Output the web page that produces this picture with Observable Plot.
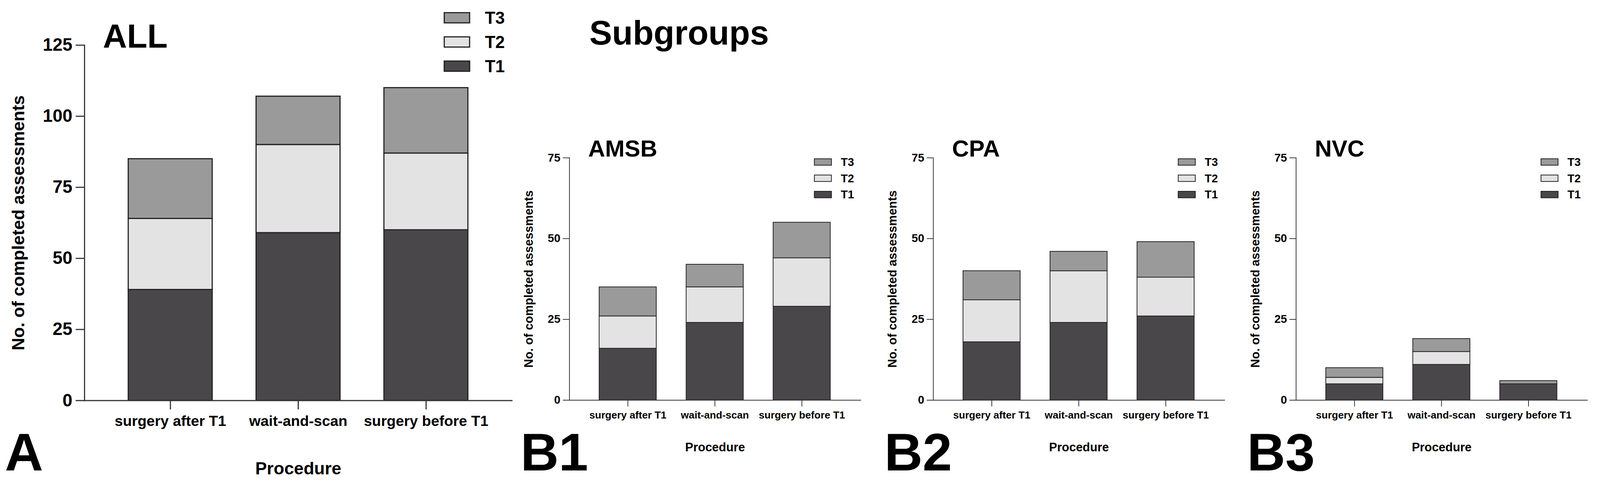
<!DOCTYPE html>
<html>
<head>
<meta charset="utf-8">
<script src="https://cdn.jsdelivr.net/npm/d3@7"></script>
<script src="https://cdn.jsdelivr.net/npm/@observablehq/plot@0.6"></script>
<style>
  html, body { margin: 0; padding: 0; background: #fff; overflow: hidden; }
  #wrap { position: absolute; left: 0; top: 0; width: 4230px; height: 1273px; background: #fff; overflow: hidden;
          transform-origin: 0 0;
          font-family: "Liberation Sans", Arial, sans-serif; font-weight: bold; color: #000; }
  .abs { position: absolute; white-space: nowrap; line-height: 1; }
  .plot { position: absolute; top: 0; max-width: none !important; }
  .lg { position: absolute; }
  .lg .sw { position: absolute; box-sizing: border-box; border-style: solid; border-color: #222; }
  .lg .tx { position: absolute; white-space: nowrap; line-height: 1; }
</style>
</head>
<body>
<div id="wrap"></div>
<script>
// ---------- data ----------
const procedures = ["surgery after T1", "wait-and-scan", "surgery before T1"];
const seriesNames = ["T1", "T2", "T3"];
const seriesColors = ["#4a474a", "#e3e3e3", "#9a9a9a"];

const allT1 = [39, 59, 60];
const allT2 = [25, 31, 27];
const allT3 = [21, 17, 23];

const amsbT1 = [16, 24, 29];
const amsbT2 = [10, 11, 15];
const amsbT3 = [9, 7, 11];

const cpaT1 = [18, 24, 26];
const cpaT2 = [13, 16, 12];
const cpaT3 = [9, 6, 11];

const nvcT1 = [5, 11, 5];
const nvcT2 = [2, 4, 0];
const nvcT3 = [3, 4, 1];

const allTicks = [0, 25, 50, 75, 100, 125];
const subTicks = [0, 25, 50, 75];

function toRows(t1, t2, t3) {
  const rows = [];
  const s = [t1, t2, t3];
  s.forEach((vals, si) => vals.forEach((v, i) => rows.push({procedure: procedures[i], series: seriesNames[si], value: v})));
  return rows;
}

const wrap = document.getElementById("wrap");
// fit the 4230x1273 canvas to the actual viewport
(function fit() {
  const vw = document.documentElement.clientWidth || window.innerWidth;
  const vh = document.documentElement.clientHeight || window.innerHeight;
  const sc = Math.min(vw / 4230, vh / 1273);
  if (Math.abs(sc - 1) > 0.002) wrap.style.transform = "scale(" + sc + ")";
})();

const FONT = "Liberation Sans, Arial, sans-serif";

function makePlot(cfg) {
  const p = Plot.plot({
    width: cfg.width,
    height: 1273,
    marginLeft: cfg.marginLeft,
    marginRight: cfg.width - cfg.marginLeft - cfg.plotW,
    marginTop: cfg.top,
    marginBottom: 1273 - cfg.bottom,
    style: {fontFamily: FONT, fontWeight: "bold", color: "#000", background: "transparent", overflow: "visible"},
    x: {domain: procedures, paddingInner: 0.343, paddingOuter: 0.34},
    y: {domain: [0, cfg.yMax]},
    color: {domain: seriesNames, range: seriesColors},
    marks: [
      Plot.barY(cfg.rows, {x: "procedure", y: "value", fill: "series", stroke: "#222", strokeWidth: cfg.sw}),
      Plot.axisY({ticks: cfg.ticks, tickSize: cfg.tickY, tickPadding: cfg.padY, fontSize: cfg.fsY, strokeWidth: cfg.sw, stroke: "#333",
                  label: "No. of completed assessments", labelAnchor: "center", labelOffset: cfg.labOffY, labelArrow: "none"}),
      Plot.axisX({tickSize: cfg.tickX, tickPadding: cfg.padX, fontSize: cfg.fsX, strokeWidth: cfg.sw, stroke: "#333",
                  label: "Procedure", labelAnchor: "center", labelOffset: cfg.labOffX, labelArrow: "none"}),
      Plot.frame({anchor: "left", stroke: "#333", strokeWidth: cfg.sw}),
      Plot.frame({anchor: "bottom", stroke: "#333", strokeWidth: cfg.sw})
    ]
  });
  p.querySelectorAll("g[aria-label='y-axis label'] text, g[aria-label='x-axis label'] text").forEach(t => {
    t.setAttribute("font-size", cfg.fsLab);
    t.textContent = t.textContent.replace(/[↑↓←→]/g, "").trim();
  });
  p.classList.add("plot");
  p.style.left = cfg.left + "px";
  wrap.appendChild(p);
}

function addText(txt, x, top, size) {
  const d = document.createElement("div");
  d.className = "abs";
  d.textContent = txt;
  d.style.left = x + "px";
  d.style.top = top + "px";
  d.style.fontSize = size + "px";
  wrap.appendChild(d);
}

function addLegend(x, y, swW, swH, gap, textDx, fs, bw) {
  const g = document.createElement("div");
  g.className = "lg";
  g.style.left = x + "px"; g.style.top = y + "px";
  [2, 1, 0].forEach((si, k) => {
    const sw = document.createElement("div");
    sw.className = "sw";
    sw.style.left = "0px"; sw.style.top = (k * gap) + "px";
    sw.style.width = swW + "px"; sw.style.height = swH + "px";
    sw.style.borderWidth = bw + "px";
    sw.style.background = seriesColors[si];
    g.appendChild(sw);
    const t = document.createElement("div");
    t.className = "tx";
    t.textContent = seriesNames[si];
    t.style.left = textDx + "px";
    t.style.fontSize = fs + "px";
    t.style.top = (k * gap + swH / 2 - fs * 0.5) + "px";
    g.appendChild(t);
  });
  wrap.appendChild(g);
}

// Panel A
makePlot({left: 0, width: 1400, marginLeft: 223, plotW: 1130, top: 119, bottom: 1059, yMax: 125,
  rows: toRows(allT1, allT2, allT3), ticks: allTicks, sw: 3, tickY: 23, padY: 9, fsY: 47,
  tickX: 24, padX: 16, fsX: 39, fsLab: 46, labOffY: 192, labOffX: 195});

// Panels B
const bPanels = [
  {axis: 1505, rows: toRows(amsbT1, amsbT2, amsbT3), title: "AMSB", letter: "B1"},
  {axis: 2467, rows: toRows(cpaT1, cpaT2, cpaT3), title: "CPA", letter: "B2"},
  {axis: 3426, rows: toRows(nvcT1, nvcT2, nvcT3), title: "NVC", letter: "B3"}
];
bPanels.forEach(b => {
  makePlot({left: b.axis - 160, width: 960, marginLeft: 160, plotW: 770, top: 417, bottom: 1058, yMax: 75,
    rows: b.rows, ticks: subTicks, sw: 2, tickY: 17, padY: 7, fsY: 30,
    tickX: 17, padX: 12, fsX: 27, fsLab: 32, labOffY: 120, labOffX: 135});
  addText(b.title, b.axis + 50, 362, 62);
  addText(b.letter, b.axis - 129, 1126, 140);
  addLegend(b.axis + 770 - 123, 419, 47, 19, 43, 71, 30, 2);
});

// Panel A texts
addText("ALL", 272, 52, 88);
addText("Subgroups", 1558, 42, 90);
addText("A", 13, 1126, 140);
addLegend(1173, 32, 70, 30, 64, 109, 45, 3);
</script>
</body>
</html>
